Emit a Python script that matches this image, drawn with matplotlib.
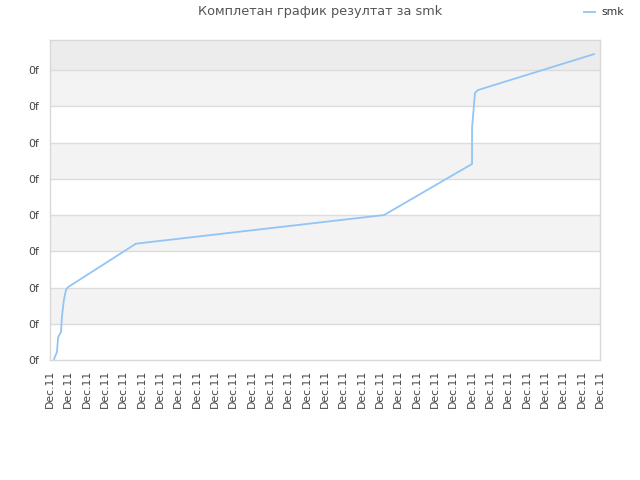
import matplotlib
matplotlib.use("Agg")
import matplotlib.pyplot as plt

title = "Комплетан график резултат за smk"
series_name = "smk"
x_vals = [0.22, 0.38, 0.44, 0.60, 0.65, 0.71, 0.76, 0.87, 0.98, 4.69, 18.22, 23.02, 23.02, 23.18, 23.35, 29.67]
y_vals = [0.03, 0.22, 0.63, 0.77, 1.19, 1.46, 1.66, 1.93, 2.01, 3.21, 4.00, 5.41, 6.40, 7.37, 7.45, 8.44]
x_ticks = list(range(31))
x_tick_labels = ["Dec.11"] * 31
y_ticks = list(range(9))
y_tick_labels = ["0f"] * 9

fig = plt.figure(figsize=(6.4, 4.8), dpi=100)
ax = fig.add_axes([50/640, 120/480, 550/640, 320/480])
ax.set_xlim(0, 30)
ax.set_ylim(0, 8.83)

# alternating bands
for i in range(9):
    top = min(i + 1, 8.83)
    if i == 8:
        color = "#ececec"
    elif i % 2 == 1:
        color = "#f3f3f3"
    else:
        color = "#ffffff"
    ax.axhspan(i, top, color=color, zorder=0, lw=0)
for y in y_ticks[1:]:
    ax.axhline(y, color="#dcdcdc", lw=1, zorder=1)

ax.plot(x_vals, y_vals, color="#92c5f5", lw=1.3, zorder=3, label=series_name)

ax.set_xticks(x_ticks)
ax.set_xticklabels(x_tick_labels, rotation=90, fontsize=7.8, color="#444444")
ax.set_yticks(y_ticks)
ax.set_yticklabels(y_tick_labels, fontsize=7.8, color="#444444")
ax.tick_params(axis="x", length=0, pad=7)
ax.tick_params(axis="y", length=0, pad=7.5)
for s in ax.spines.values():
    s.set_color("#d8d8d8")
    s.set_linewidth(1)

fig.text(0.5, 0.975, title, ha="center", va="center", fontsize=9.3, color="#555555")
fig.legend(loc="upper right", bbox_to_anchor=(0.99, 1.005), frameon=False, fontsize=7.8,
           handlelength=1.0, handletextpad=0.6, labelcolor="#333333")

fig.savefig("out.png", dpi=100)
